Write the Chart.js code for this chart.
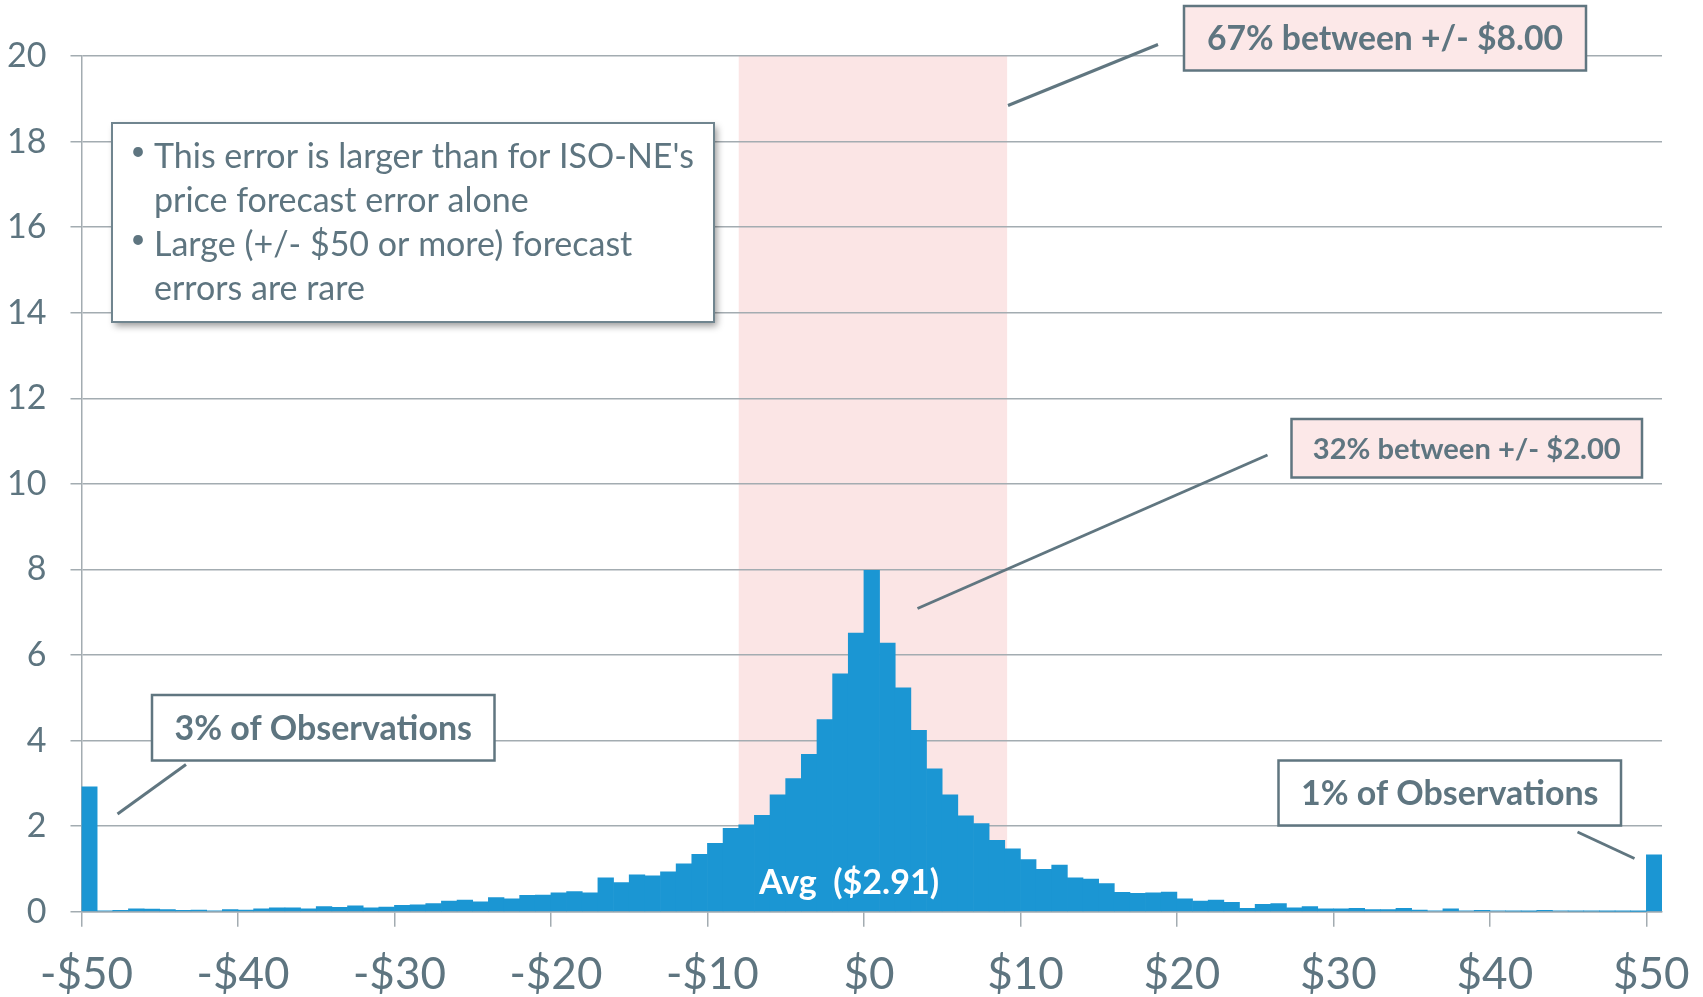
<!DOCTYPE html>
<html>
<head>
<meta charset="utf-8">
<script src="https://cdn.jsdelivr.net/npm/chart.js@4/dist/chart.umd.min.js"></script>
<style>
  html, body { margin: 0; padding: 0; background: #ffffff; }
  #wrap { position: relative; width: 1703px; height: 997px; }
  canvas { display: block; }
</style>
</head>
<body>
<div id="wrap"><canvas id="errChart" width="1703" height="997"></canvas></div>
<script>
// Lower edge of each $1 forecast-error bin (-$50 and $50 bins collect the tails)
const binLowerEdges = [
  -50, -49, -48, -47, -46, -45, -44, -43, -42, -41,
  -40, -39, -38, -37, -36, -35, -34, -33, -32, -31,
  -30, -29, -28, -27, -26, -25, -24, -23, -22, -21,
  -20, -19, -18, -17, -16, -15, -14, -13, -12, -11,
  -10, -9, -8, -7, -6, -5, -4, -3, -2, -1,
  0, 1, 2, 3, 4, 5, 6, 7, 8, 9,
  10, 11, 12, 13, 14, 15, 16, 17, 18, 19,
  20, 21, 22, 23, 24, 25, 26, 27, 28, 29,
  30, 31, 32, 33, 34, 35, 36, 37, 38, 39,
  40, 41, 42, 43, 44, 45, 46, 47, 48, 49,
  50
];

// Share of observations in each bin (%)
const errorSharePct = [
  2.92, 0.02, 0.03, 0.07, 0.06, 0.05, 0.03, 0.04, 0.02, 0.05,
  0.04, 0.07, 0.09, 0.09, 0.07, 0.12, 0.10, 0.14, 0.09, 0.11,
  0.15, 0.16, 0.19, 0.25, 0.27, 0.23, 0.33, 0.30, 0.38, 0.39,
  0.44, 0.47, 0.44, 0.79, 0.68, 0.86, 0.84, 0.93, 1.12, 1.34,
  1.60, 1.95, 2.03, 2.25, 2.73, 3.11, 3.68, 4.49, 5.56, 6.51,
  7.98, 6.28, 5.23, 4.24, 3.34, 2.73, 2.24, 2.06, 1.67, 1.47,
  1.22, 0.99, 1.09, 0.79, 0.76, 0.66, 0.45, 0.43, 0.44, 0.46,
  0.30, 0.25, 0.27, 0.22, 0.08, 0.17, 0.19, 0.09, 0.12, 0.07,
  0.07, 0.08, 0.05, 0.05, 0.08, 0.04, 0.02, 0.07, 0.02, 0.03,
  0.02, 0.01, 0.005, 0.03, 0.02, 0.01, 0.01, 0.005, 0.005, 0.003,
  1.33
];

const yTickValues = [0, 2, 4, 6, 8, 10, 12, 14, 16, 18, 20];
const xTickValues = [-50, -40, -30, -20, -10, 0, 10, 20, 30, 40, 50];
const xTickLabels = ['-$50', '-$40', '-$30', '-$20', '-$10', '$0', '$10', '$20', '$30', '$40', '$50'];

// Shaded range holding 67% of the observations
const bandRange = [-8, 9.15];

const avgLabel = 'Avg  ($2.91)';
const noteBullets = [
  ["This error is larger than for ISO-NE's", 'price forecast error alone'],
  ['Large (+/- $50 or more) forecast', 'errors are rare']
];
const calloutTexts = {
  within8: '67% between +/- $8.00',
  within2: '32% between +/- $2.00',
  lowTail: '3% of Observations',
  highTail: '1% of Observations'
};

// ---- styling ----
const FONT = 'Lato, "Open Sans", sans-serif';
const TEXT = 'rgb(94,117,128)';
const GRID = 'rgb(163,172,177)';
const BAR = 'rgb(27,150,211)';
const BAND = 'rgb(251,229,229)';
const CALLOUT_PINK = 'rgb(252,232,232)';
const EDGE = 'rgb(96,118,128)';

function fittedFont(ctx, text, weight, targetWidth) {
  ctx.font = weight + ' 100px ' + FONT;
  const size = 100 * targetWidth / ctx.measureText(text).width;
  return weight + ' ' + size.toFixed(2) + 'px ' + FONT;
}

function drawCallout(ctx, c) {
  ctx.save();
  // leader line
  ctx.strokeStyle = EDGE;
  ctx.lineWidth = 3;
  ctx.lineCap = 'butt';
  ctx.beginPath();
  ctx.moveTo(c.line[0], c.line[1]);
  ctx.lineTo(c.line[2], c.line[3]);
  ctx.stroke();
  // box
  ctx.fillStyle = c.fill;
  ctx.fillRect(c.box[0], c.box[1], c.box[2], c.box[3]);
  ctx.lineWidth = 2.5;
  ctx.strokeRect(c.box[0], c.box[1], c.box[2], c.box[3]);
  // text
  ctx.fillStyle = TEXT;
  ctx.font = fittedFont(ctx, c.text, 'bold', c.textWidth);
  ctx.textAlign = 'center';
  ctx.textBaseline = 'middle';
  ctx.fillText(c.text, c.box[0] + c.box[2] / 2, c.box[1] + c.box[3] / 2 + 1);
  ctx.restore();
}

const decorPlugin = {
  id: 'decor',
  beforeDraw(chart) {
    const { ctx, chartArea, scales } = chart;
    const x0 = scales.x.getPixelForValue(bandRange[0]);
    const x1 = scales.x.getPixelForValue(bandRange[1]);
    ctx.save();
    ctx.fillStyle = BAND;
    ctx.fillRect(x0, chartArea.top, x1 - x0, chartArea.bottom - chartArea.top);
    ctx.restore();
  },
  afterDatasetsDraw(chart) {
    const { ctx, scales } = chart;
    // average label sits on the central bars
    ctx.save();
    ctx.fillStyle = '#ffffff';
    ctx.font = fittedFont(ctx, avgLabel, 'bold', 180);
    ctx.textAlign = 'center';
    ctx.textBaseline = 'middle';
    ctx.fillText(avgLabel, 849, scales.y.getPixelForValue(0.67));
    ctx.restore();
  },
  afterDraw(chart) {
    const { ctx } = chart;

    // notes box with shadow
    ctx.save();
    ctx.shadowColor = 'rgba(0,0,0,0.4)';
    ctx.shadowBlur = 7;
    ctx.shadowOffsetX = 3;
    ctx.shadowOffsetY = 4;
    ctx.fillStyle = '#ffffff';
    ctx.fillRect(112, 123, 602, 199);
    ctx.restore();
    ctx.save();
    ctx.strokeStyle = 'rgb(112,133,143)';
    ctx.lineWidth = 2;
    ctx.strokeRect(112, 123, 602, 199);
    ctx.fillStyle = TEXT;
    const noteFont = fittedFont(ctx, noteBullets[0][0], 'normal', 540);
    ctx.textBaseline = 'alphabetic';
    let baseY = 168;
    noteBullets.forEach(lines => {
      ctx.font = 'normal 26px ' + FONT;
      ctx.textAlign = 'center';
      ctx.fillText('\u2022', 138, baseY - 8);
      ctx.font = noteFont;
      ctx.textAlign = 'left';
      lines.forEach(line => {
        ctx.fillText(line, 154, baseY);
        baseY += 44;
      });
    });
    ctx.restore();

    drawCallout(ctx, {
      text: calloutTexts.within8, textWidth: 356, fill: CALLOUT_PINK,
      box: [1184, 6, 402, 64.5], line: [1008, 105.5, 1158, 44.5]
    });
    drawCallout(ctx, {
      text: calloutTexts.within2, textWidth: 308, fill: CALLOUT_PINK,
      box: [1291.5, 419, 350.5, 58.5], line: [917.5, 608.5, 1267.5, 455]
    });
    drawCallout(ctx, {
      text: calloutTexts.lowTail, textWidth: 297.5, fill: '#ffffff',
      box: [152, 695, 342.5, 65.5], line: [117.5, 814, 186, 764.5]
    });
    drawCallout(ctx, {
      text: calloutTexts.highTail, textWidth: 297.5, fill: '#ffffff',
      box: [1278.5, 760.5, 342.5, 65], line: [1577.5, 832, 1634.5, 858.5]
    });
  }
};

const ctx = document.getElementById('errChart').getContext('2d');
new Chart(ctx, {
  type: 'bar',
  data: {
    datasets: [{
      data: binLowerEdges.map((edge, i) => ({ x: edge + 0.5, y: errorSharePct[i] })),
      backgroundColor: BAR,
      borderWidth: 0,
      barPercentage: 1,
      categoryPercentage: 1
    }]
  },
  options: {
    responsive: false,
    animation: false,
    devicePixelRatio: 1,
    layout: { padding: { top: 56, right: 41, left: 0, bottom: 0 } },
    plugins: { legend: { display: false }, tooltip: { enabled: false } },
    scales: {
      x: {
        type: 'linear',
        min: -50,
        max: 51,
        offset: false,
        afterBuildTicks: s => { s.ticks = xTickValues.map(v => ({ value: v })); },
        afterFit: s => { s.height = 85.3; s.paddingLeft = 0; s.paddingRight = 0; },
        ticks: {
          autoSkip: false,
          maxRotation: 0,
          padding: 22,
          labelOffset: 5,
          color: TEXT,
          font: { family: FONT, size: 44 },
          callback: (v, i) => xTickLabels[i]
        },
        grid: { drawOnChartArea: false, drawTicks: true, tickLength: 15, color: GRID, lineWidth: 1.5, offset: false },
        border: { display: true, color: GRID, width: 1.5 }
      },
      y: {
        min: 0,
        max: 20,
        afterBuildTicks: s => { s.ticks = yTickValues.map(v => ({ value: v })); },
        afterFit: s => { s.width = 81.5; },
        ticks: {
          padding: 24,
          color: TEXT,
          font: { family: FONT, size: 34 }
        },
        grid: { color: GRID, lineWidth: 1.5, tickLength: 11, drawTicks: true },
        border: { display: true, color: GRID, width: 1.5 }
      }
    }
  },
  plugins: [decorPlugin]
});
</script>
</body>
</html>
